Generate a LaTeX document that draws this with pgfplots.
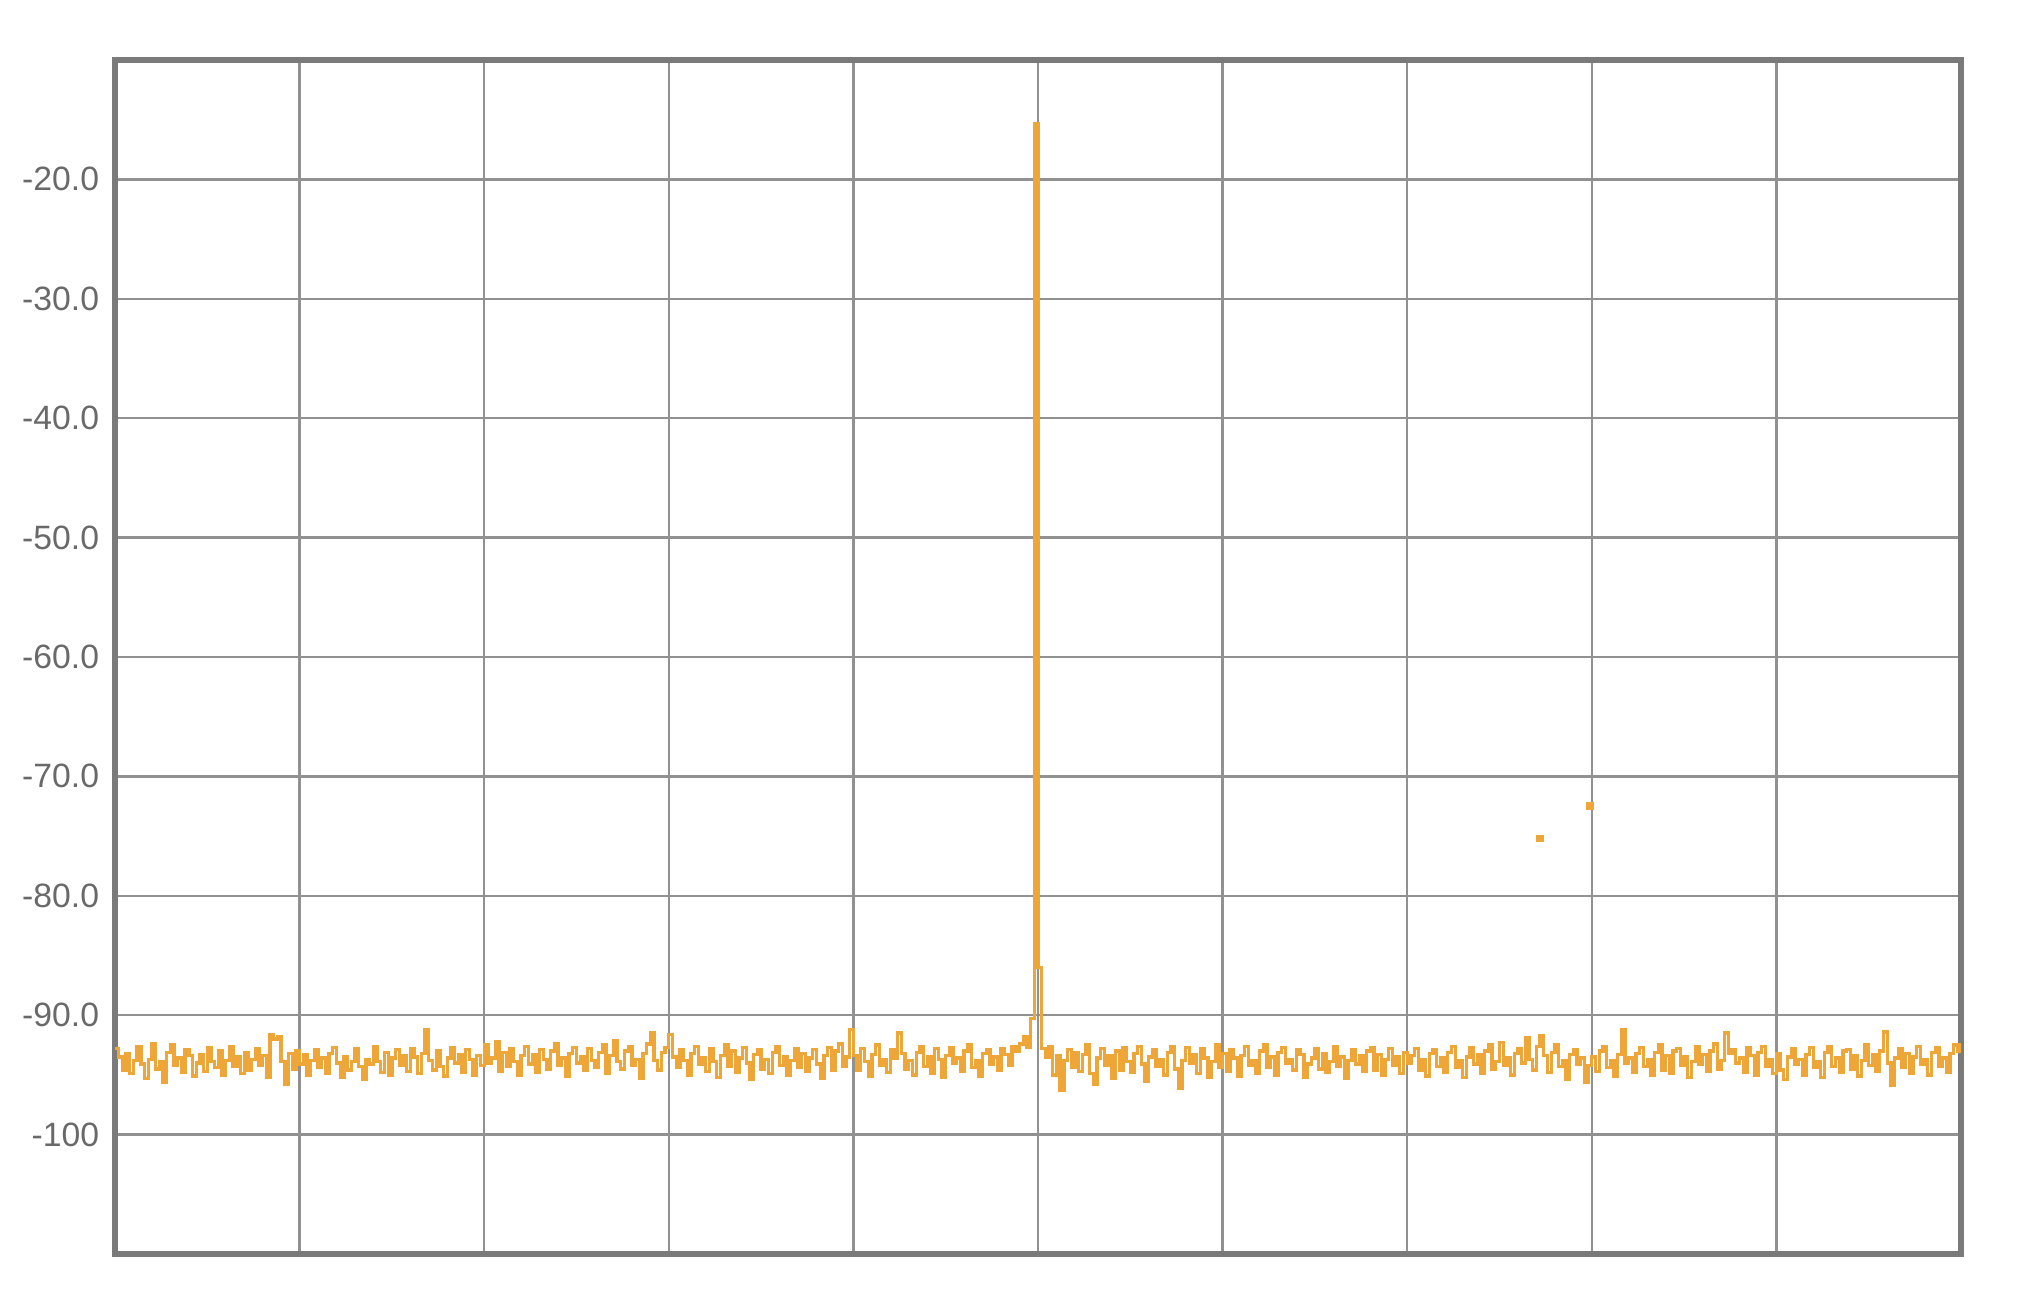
\documentclass[border=0pt]{standalone}
\usepackage{pgfplots}
\usepackage{pgfplotstable}
\pgfplotsset{compat=1.18}
\usepackage{fontspec}
\setmainfont{Liberation Sans}
\definecolor{trace}{RGB}{238,166,56}
\definecolor{frame}{RGB}{122,122,122}
\definecolor{gridc}{RGB}{145,145,145}
\definecolor{labc}{RGB}{105,105,105}

\pgfplotstableread[row sep=\\]{
y\\
-92.8\\ -93.5\\ -94.6\\ -93.2\\ -94.9\\ -93.8\\ -92.6\\ -94.1\\ -95.3\\ -93.7\\ -92.4\\ -94.5\\ -93.9\\ -95.6\\ -93.1\\ -92.5\\ -94.2\\ -93.6\\ -94.8\\ -92.9\\ -93.4\\ -95.1\\ -94.0\\ -93.3\\ -94.7\\ -92.7\\ -93.9\\ -94.4\\ -93.0\\ -95.0\\ -93.8\\ -92.6\\ -94.3\\ -93.5\\ -94.9\\ -93.1\\ -94.6\\ -93.7\\ -92.8\\ -94.2\\ -93.4\\ -95.2\\ -91.6\\ -92.0\\ -91.8\\ -93.9\\ -95.8\\ -93.2\\ -94.5\\ -93.0\\
-94.1\\ -93.3\\ -95.0\\ -93.8\\ -92.9\\ -94.4\\ -93.6\\ -94.9\\ -93.2\\ -92.7\\ -94.0\\ -95.2\\ -93.5\\ -94.6\\ -93.9\\ -92.8\\ -94.3\\ -95.4\\ -93.7\\ -94.1\\ -92.6\\ -93.9\\ -94.8\\ -93.1\\ -95.0\\ -93.6\\ -92.9\\ -94.2\\ -93.4\\ -94.7\\ -92.8\\ -93.5\\ -94.9\\ -93.2\\ -91.2\\ -93.8\\ -94.6\\ -93.0\\ -94.3\\ -95.1\\ -93.6\\ -92.7\\ -94.0\\ -93.3\\ -94.8\\ -92.9\\ -93.7\\ -95.0\\ -93.4\\ -94.2\\
-92.5\\ -94.0\\ -93.6\\ -92.2\\ -94.7\\ -93.1\\ -94.3\\ -92.8\\ -93.9\\ -95.0\\ -93.4\\ -92.6\\ -94.1\\ -93.3\\ -94.8\\ -92.9\\ -93.7\\ -94.5\\ -93.0\\ -92.4\\ -94.2\\ -93.6\\ -95.1\\ -93.2\\ -92.7\\ -94.0\\ -93.5\\ -94.6\\ -92.8\\ -93.8\\ -94.4\\ -93.1\\ -92.5\\ -94.9\\ -93.4\\ -92.1\\ -93.9\\ -94.5\\ -93.0\\ -92.6\\ -94.2\\ -93.7\\ -95.3\\ -93.2\\ -92.4\\ -91.5\\ -93.8\\ -94.6\\ -93.1\\ -92.7\\
-91.6\\ -93.5\\ -94.4\\ -92.9\\ -93.8\\ -95.0\\ -93.2\\ -92.6\\ -94.1\\ -93.6\\ -94.7\\ -92.8\\ -93.9\\ -95.2\\ -93.4\\ -92.5\\ -94.3\\ -93.0\\ -94.8\\ -93.6\\ -92.7\\ -94.0\\ -95.4\\ -93.3\\ -92.9\\ -94.5\\ -93.7\\ -94.9\\ -93.1\\ -92.6\\ -94.2\\ -93.5\\ -95.0\\ -93.8\\ -92.8\\ -94.4\\ -93.2\\ -94.7\\ -93.6\\ -92.9\\ -94.1\\ -95.3\\ -93.4\\ -92.7\\ -94.6\\ -93.0\\ -92.4\\ -94.3\\ -93.5\\ -91.2\\
-93.4\\ -94.6\\ -92.8\\ -93.9\\ -95.1\\ -93.3\\ -92.5\\ -94.2\\ -93.7\\ -94.8\\ -92.9\\ -93.6\\ -91.5\\ -93.2\\ -94.5\\ -93.8\\ -95.0\\ -93.1\\ -92.6\\ -94.3\\ -93.5\\ -94.9\\ -92.8\\ -93.7\\ -95.2\\ -93.4\\ -92.7\\ -94.0\\ -93.6\\ -94.7\\ -93.0\\ -92.5\\ -94.4\\ -93.8\\ -95.1\\ -93.2\\ -92.9\\ -94.1\\ -93.5\\ -94.6\\ -92.8\\ -93.3\\ -94.2\\ -92.6\\ -93.0\\ -92.4\\ -91.8\\ -92.7\\ -90.3\\ -15.3\\
-86.0\\ -92.8\\ -93.5\\ -92.6\\ -95.0\\ -93.4\\ -96.3\\ -93.8\\ -92.9\\ -94.4\\ -93.1\\ -94.7\\ -93.3\\ -92.5\\ -94.9\\ -95.8\\ -93.6\\ -92.8\\ -94.2\\ -93.4\\ -95.3\\ -93.0\\ -94.6\\ -92.7\\ -93.9\\ -94.8\\ -93.2\\ -92.6\\ -94.1\\ -95.5\\ -93.5\\ -92.9\\ -94.3\\ -93.7\\ -95.0\\ -93.1\\ -92.6\\ -94.5\\ -96.1\\ -93.8\\ -92.7\\ -94.0\\ -93.3\\ -94.9\\ -92.8\\ -93.6\\ -95.2\\ -93.9\\ -92.5\\ -94.4\\
-93.2\\ -94.7\\ -92.9\\ -93.6\\ -95.1\\ -93.4\\ -92.6\\ -94.2\\ -93.8\\ -94.9\\ -93.0\\ -92.5\\ -94.4\\ -93.5\\ -95.0\\ -93.1\\ -92.7\\ -94.0\\ -93.7\\ -94.6\\ -92.9\\ -93.3\\ -95.2\\ -94.1\\ -93.6\\ -92.8\\ -94.5\\ -93.2\\ -94.8\\ -93.9\\ -92.6\\ -94.3\\ -93.5\\ -95.3\\ -93.8\\ -92.9\\ -94.1\\ -93.4\\ -94.7\\ -93.0\\ -92.7\\ -94.6\\ -93.3\\ -95.0\\ -93.7\\ -92.8\\ -94.2\\ -93.5\\ -94.9\\ -93.1\\
-94.0\\ -93.4\\ -92.8\\ -94.6\\ -93.7\\ -95.1\\ -93.2\\ -92.9\\ -94.3\\ -93.6\\ -94.8\\ -93.1\\ -92.6\\ -94.4\\ -93.8\\ -95.2\\ -93.5\\ -92.7\\ -94.1\\ -93.3\\ -94.9\\ -93.0\\ -92.5\\ -94.5\\ -93.9\\ -92.3\\ -94.2\\ -93.6\\ -95.0\\ -93.2\\ -92.8\\ -94.0\\ -91.9\\ -93.7\\ -94.6\\ -92.6\\ -91.7\\ -93.4\\ -94.8\\ -93.1\\ -92.5\\ -94.3\\ -93.8\\ -95.4\\ -93.3\\ -92.9\\ -94.1\\ -93.6\\ -95.6\\ -94.2\\
-93.5\\ -94.7\\ -93.0\\ -92.6\\ -94.4\\ -93.8\\ -95.1\\ -93.3\\ -91.2\\ -94.0\\ -93.6\\ -94.8\\ -93.2\\ -92.7\\ -94.3\\ -93.7\\ -95.0\\ -93.1\\ -92.5\\ -94.6\\ -93.4\\ -94.9\\ -93.0\\ -92.8\\ -94.2\\ -93.5\\ -95.2\\ -93.9\\ -92.6\\ -94.1\\ -93.3\\ -94.7\\ -93.0\\ -92.4\\ -94.5\\ -93.8\\ -91.5\\ -93.2\\ -92.9\\ -94.0\\ -93.6\\ -94.8\\ -92.7\\ -93.4\\ -95.0\\ -93.1\\ -92.6\\ -94.3\\ -93.7\\ -94.9\\
-93.2\\ -94.6\\ -95.4\\ -93.5\\ -92.8\\ -94.1\\ -93.7\\ -95.0\\ -93.3\\ -92.7\\ -94.4\\ -93.9\\ -95.2\\ -93.1\\ -92.6\\ -94.3\\ -93.6\\ -94.8\\ -93.0\\ -92.9\\ -94.5\\ -93.4\\ -95.1\\ -93.8\\ -92.5\\ -94.2\\ -93.3\\ -94.7\\ -93.0\\ -91.4\\ -94.0\\ -95.9\\ -93.6\\ -92.8\\ -94.4\\ -93.2\\ -94.9\\ -93.5\\ -92.6\\ -94.1\\ -93.7\\ -95.0\\ -93.1\\ -92.7\\ -94.3\\ -93.6\\ -94.8\\ -93.2\\ -92.5\\ -93.0\\
-92.3\\
}\noise

\begin{document}
\begin{tikzpicture}
\path[use as bounding box] (0,0) rectangle (20.2cm,13.06cm);
\begin{axis}[
  at={(1.15cm,0.52cm)}, anchor=south west,
  scale only axis, width=18.46cm, height=11.94cm,
  xmin=0, xmax=10, ymin=-110, ymax=-10,
  xtick={0,1,...,10}, xticklabels={},
  ytick={-100,-90,-80,-70,-60,-50,-40,-30,-20},
  yticklabels={-100,-90.0,-80.0,-70.0,-60.0,-50.0,-40.0,-30.0,-20.0},
  major tick length=0pt,
  grid=major,
  major grid style={draw=gridc, line width=0.65pt},
  axis line style={draw=frame, line width=1.6pt},
  tick label style={font=\fontsize{9.6}{11}\selectfont, text=labc},
  yticklabel style={xshift=-1pt},
]
\addplot[const plot, draw=trace, line width=0.95pt] table[x expr=\coordindex*0.02, y=y]{\noise};
\addplot[only marks, mark=square*, mark size=0.9pt, draw=trace, fill=trace] coordinates {(7.72,-75.2) (7.99,-72.5)};
\end{axis}
\end{tikzpicture}
\end{document}
